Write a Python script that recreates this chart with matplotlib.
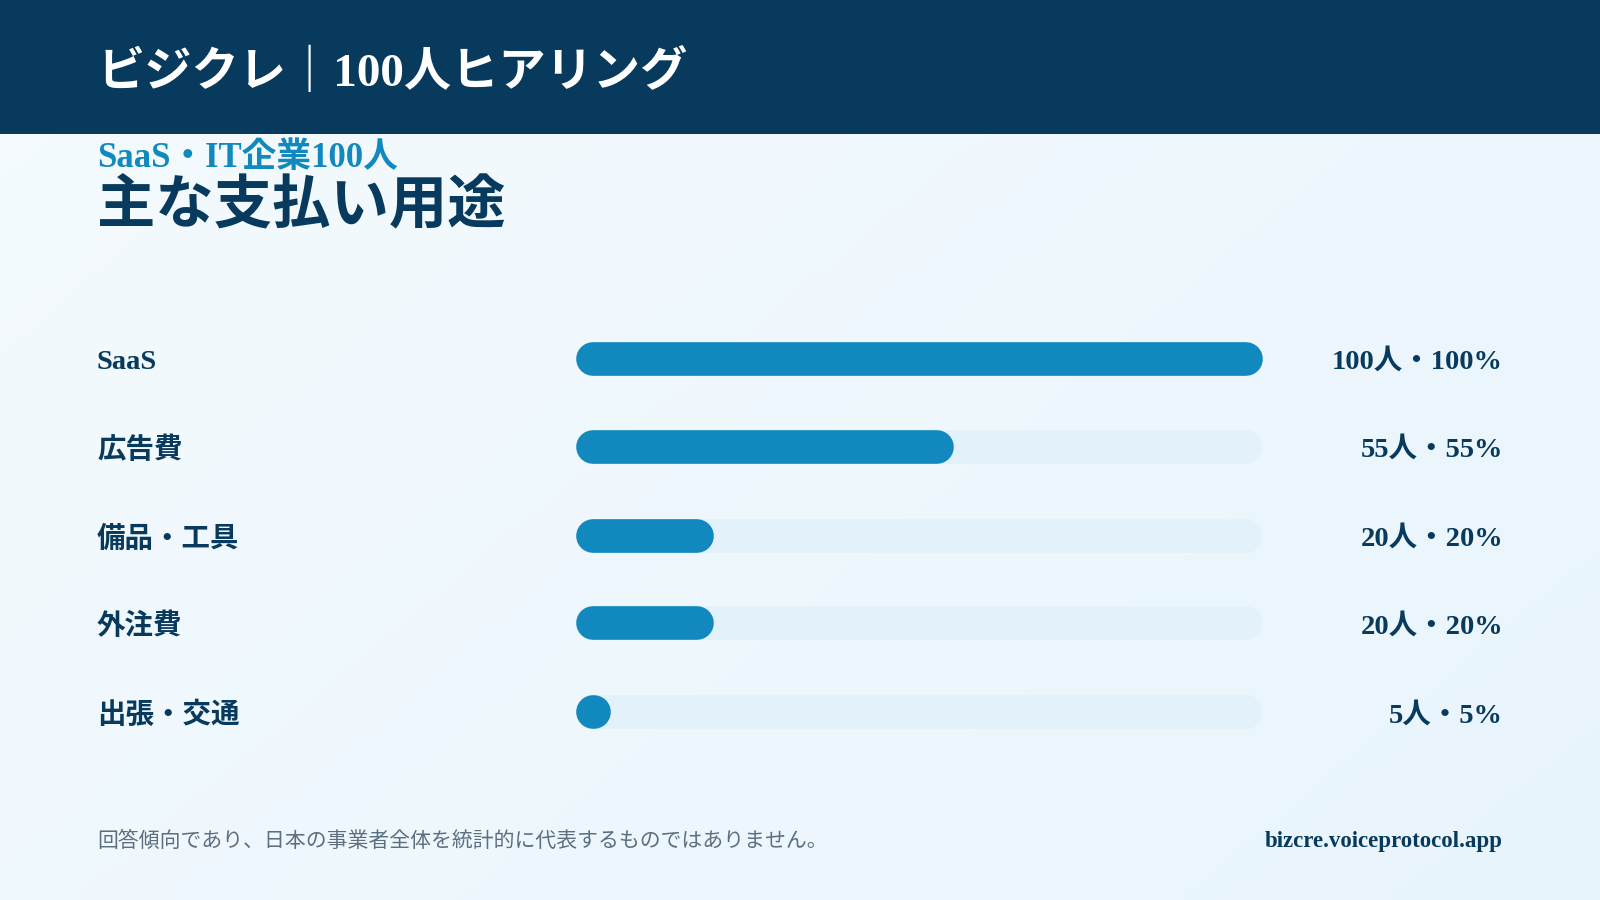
import numpy as np
import matplotlib
matplotlib.use('Agg')
import matplotlib.pyplot as plt

plt.rcParams['font.family'] = ['Liberation Serif', 'Noto Sans CJK JP', 'DejaVu Sans']

categories = ['SaaS', '広告費', '備品・工具', '外注費', '出張・交通']
counts = [100, 55, 20, 20, 5]
percents = [100, 55, 20, 20, 5]
total = 100

navy = '#073a5c'
blue = '#1289be'
track = '#e3f2fa'

# layout measured on a 1568x882 view of the reference
W, H = 1568, 882
scale = 1600 / W
fig = plt.figure(figsize=(16, 9), dpi=100)

# background gradient
bg = fig.add_axes([0, 0, 1, 1])
gx, gy = np.meshgrid(np.linspace(0, 1, 200), np.linspace(0, 1, 120))
t = (gx * 0.6 + gy * 0.4)
c0 = np.array([0xf5, 0xfb, 0xfe]) / 255
c1 = np.array([0xe8, 0xf4, 0xfc]) / 255
img = c0[None, None, :] * (1 - t[..., None]) + c1[None, None, :] * t[..., None]
bg.imshow(img, extent=[0, 1, 0, 1], aspect='auto', origin='upper')
bg.set_xlim(0, 1)
bg.set_ylim(0, 1)
bg.axis('off')

# header band
hdr = fig.add_axes([0, 1 - 131 / H, 1, 131 / H])
hdr.set_facecolor(navy)
hdr.set_xticks([])
hdr.set_yticks([])
for s in hdr.spines.values():
    s.set_visible(False)

def px(x, y):
    # small downward nudge so glyph centres line up with the reference
    return x / W, 1 - (y + 3) / H

fig.text(*px(96, 68), 'ビジクレ｜100人ヒアリング', color='white', fontsize=34,
         fontweight='bold', va='center', ha='left')
fig.text(*px(95, 152), 'SaaS・IT企業100人', color=blue, fontsize=25,
         fontweight='bold', va='center', ha='left')
fig.text(*px(95, 200), '主な支払い用途', color=navy, fontsize=42,
         fontweight='bold', va='center', ha='left')

# bars
x0, x1 = 565, 1238
row_y = [352, 438, 525, 611, 698]
ax = fig.add_axes([x0 / W, 0, (x1 - x0) / W, 1])
ax.set_xlim(0, total)
ax.set_ylim(H, 0)
ax.axis('off')

bar_h = 33
lw = bar_h * scale * 72 / 100
r = bar_h / 2 / (x1 - x0) * total

for i, (cat, n, p) in enumerate(zip(categories, counts, percents)):
    y = row_y[i]
    ax.plot([r, total - r], [y, y], color=track, lw=lw,
            solid_capstyle='round', clip_on=False)
    end = max(p, 2 * r)
    ax.plot([r, max(end - r, r + 0.01)], [y, y], color=blue, lw=lw,
            solid_capstyle='round', clip_on=False)
    fig.text(*px(95, y), cat, color=navy, fontsize=20.5, fontweight='bold',
             va='center', ha='left')
    fig.text(*px(1473, y), f'{n}人・{p}%', color=navy, fontsize=20.5,
             fontweight='bold', va='center', ha='right')

fig.text(*px(95, 822), '回答傾向であり、日本の事業者全体を統計的に代表するものではありません。',
         color='#5c6f80', fontsize=15, va='center', ha='left')
fig.text(*px(1473, 822), 'bizcre.voiceprotocol.app', color=navy, fontsize=16.5,
         fontweight='bold', va='center', ha='right')

fig.savefig('out.png', dpi=100)
